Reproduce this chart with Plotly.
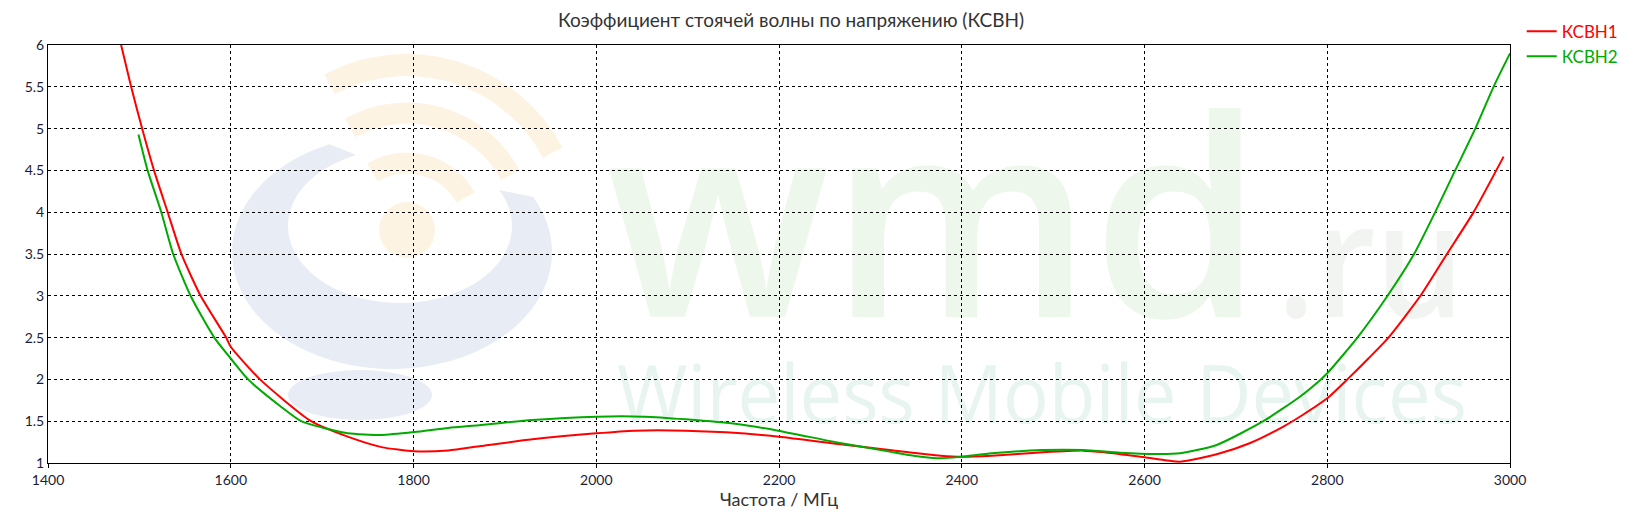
import base64
import math
import plotly.graph_objects as go

# ---------------- data ----------------
freq1 = [1480, 1491, 1503, 1516, 1531, 1546, 1567, 1595, 1600, 1632, 1688, 1728, 1765, 1801, 1838,
         1874, 1930, 2000, 2042, 2098, 2142, 2200, 2265, 2321, 2377, 2400, 2433, 2489, 2533,
         2556, 2600, 2639, 2679, 2715, 2752, 2773, 2800, 2822, 2845, 2867, 2902, 2931, 2960, 2993]
vswr1 = [6.0, 5.5, 5.0, 4.5, 4.0, 3.5, 3.0, 2.5, 2.39, 2.0, 1.5, 1.315, 1.19, 1.14, 1.15,
         1.203, 1.283, 1.355, 1.387, 1.387, 1.367, 1.315, 1.227, 1.155, 1.088, 1.076, 1.088, 1.128, 1.148,
         1.128, 1.068, 1.016, 1.104, 1.236, 1.436, 1.574, 1.774, 2.0, 2.25, 2.5, 3.0, 3.5, 3.998, 4.665]

freq2 = [1499, 1509, 1524, 1537, 1556, 1582, 1600, 1619, 1655, 1677, 1703, 1728, 1765, 1801, 1838,
         1874, 1930, 2000, 2053, 2098, 2154, 2199, 2265, 2321, 2349, 2377, 2400, 2433, 2489, 2533,
         2573, 2612, 2639, 2679, 2730, 2770, 2793, 2800, 2833, 2866, 2895, 2918, 2940, 2962, 2982, 3000]
vswr2 = [4.93, 4.5, 4.0, 3.5, 3.0, 2.5, 2.25, 2.0, 1.673, 1.5, 1.415, 1.355, 1.335, 1.37, 1.42,
         1.455, 1.514, 1.554, 1.554, 1.522, 1.467, 1.387, 1.243, 1.136, 1.084, 1.056, 1.076, 1.116, 1.155, 1.155,
         1.124, 1.108, 1.116, 1.216, 1.5, 1.793, 2.0, 2.073, 2.5, 3.0, 3.5, 3.998, 4.5, 5.0, 5.5, 5.9]

x_ticks = [1400, 1600, 1800, 2000, 2200, 2400, 2600, 2800, 3000]
y_ticks = [1, 1.5, 2, 2.5, 3, 3.5, 4, 4.5, 5, 5.5, 6]
series_names = ["КСВН1", "КСВН2"]
series_colors = ["#ff0000", "#00aa00"]

# page body has an 8px default margin; the figure is sized to compensate
BODY = 8
W_FIG, H_FIG = 1641 - BODY, 521 - BODY
ML, MR, MT, MB = 48 - BODY, 131, 45 - BODY, 58

# ---------------- watermark (decorative background image) ----------------
W, H = 1462, 418
ox, oy = 48, 45


def crescent():
    cx_o, cy_o, rx_o, ry_o = 392 - ox, 252 - oy, 160, 117
    cx_i, cy_i, rx_i, ry_i = 400 - ox, 226 - oy, 112, 77
    a0, a1 = -28, 247
    n = 80
    pts = []
    for k in range(n + 1):
        a = math.radians(a0 + (a1 - a0) * k / n)
        pts.append((cx_o + rx_o * math.cos(a), cy_o + ry_o * math.sin(a)))
    for k in range(n, -1, -1):
        a = math.radians(a0 + (a1 - a0) * k / n)
        pts.append((cx_i + rx_i * math.cos(a), cy_i + ry_i * math.sin(a)))
    return "M" + " L".join(f"{x:.1f},{y:.1f}" for x, y in pts) + " Z"


def arc(cx, cy, r, a0, a1):
    x0, y0 = cx + r * math.cos(math.radians(a0)), cy + r * math.sin(math.radians(a0))
    x1, y1 = cx + r * math.cos(math.radians(a1)), cy + r * math.sin(math.radians(a1))
    return f"M{x0:.1f},{y0:.1f} A{r},{r} 0 0 1 {x1:.1f},{y1:.1f}"


wcx, wcy = 407 - ox, 230 - oy
svg = f'''<svg xmlns="http://www.w3.org/2000/svg" width="{W}" height="{H}" viewBox="0 0 {W} {H}">
<path d="{crescent()}" fill="#e8ecf5"/>
<ellipse cx="{360 - ox}" cy="{395 - oy}" rx="72" ry="25" fill="#e8ecf5"/>
<circle cx="{wcx}" cy="{wcy}" r="28" fill="#fdf3e2"/>
<path d="{arc(wcx, wcy, 67, -121, -29)}" stroke="#fdf3e2" stroke-width="21" fill="none"/>
<path d="{arc(wcx, wcy, 117, -119, -28)}" stroke="#fdf3e2" stroke-width="21" fill="none"/>
<path d="{arc(wcx, wcy, 165, -118, -28)}" stroke="#fdf3e2" stroke-width="22" fill="none"/>
<text x="{606 - ox}" y="{317 - oy}" font-family="Open Sans" font-weight="600" font-size="275"
 textLength="{657}" lengthAdjust="spacingAndGlyphs" fill="#eef7ec">wmd</text>
<text x="{1277 - ox}" y="{317 - oy}" font-family="Open Sans" font-weight="600" font-size="160"
 textLength="{187}" lengthAdjust="spacingAndGlyphs" fill="#f1f4f1">.ru</text>
<text x="{617 - ox}" y="{423 - oy}" font-family="Open Sans" font-size="80"
 textLength="{850}" lengthAdjust="spacingAndGlyphs" fill="#e8f4f0">Wireless Mobile Devices</text>
</svg>'''
svg_uri = "data:image/svg+xml;base64," + base64.b64encode(svg.encode("utf-8")).decode()

# ---------------- figure ----------------
fig = go.Figure()
for fx, vy, nm, col in [(freq1, vswr1, series_names[0], series_colors[0]),
                        (freq2, vswr2, series_names[1], series_colors[1])]:
    fig.add_trace(go.Scatter(
        x=fx, y=vy, mode="lines", line=dict(color=col, width=2, shape="spline", smoothing=0.6),
        name=f"<span style='color:{col}'>{nm}</span>", hoverinfo="x+y"))

axis_common = dict(showline=True, linecolor="black", linewidth=1, mirror=True,
                   showgrid=True, gridcolor="black", gridwidth=1, griddash="3px,3px",
                   zeroline=False, tickfont=dict(family="Lato", size=14, color="#1c1c3a"))

fig.update_layout(
    width=W_FIG, height=H_FIG,
    margin=dict(l=ML, r=MR, t=MT, b=MB, autoexpand=False),
    paper_bgcolor="white", plot_bgcolor="rgba(0,0,0,0)",
    title=dict(text="Коэффициент стоячей волны по напряжению (КСВН)",
               xref="paper", x=(791 - 48) / 1462, xanchor="center",
               yref="container", y=1 - (20 - BODY) / H_FIG, yanchor="middle",
               font=dict(family="Lato", size=19, color="#333333")),
    xaxis=dict(range=[1400, 3000], tickvals=x_ticks, ticks="outside", ticklen=4, tickcolor="black",
               title=dict(text="Частота / МГц", font=dict(family="Lato", size=18, color="#333333"),
                          standoff=2),
               **axis_common),
    yaxis=dict(range=[1, 6], tickvals=y_ticks, ticks="", **axis_common),
    legend=dict(x=1.008, y=1.075, xanchor="left", yanchor="top", bgcolor="rgba(0,0,0,0)",
                font=dict(family="Lato", size=17), tracegroupgap=0),
    images=[dict(source=svg_uri, xref="paper", yref="paper", x=0, y=1, sizex=1, sizey=1,
                 xanchor="left", yanchor="top", sizing="stretch", layer="below")],
    showlegend=True,
)

fig.write_html("out.html")
